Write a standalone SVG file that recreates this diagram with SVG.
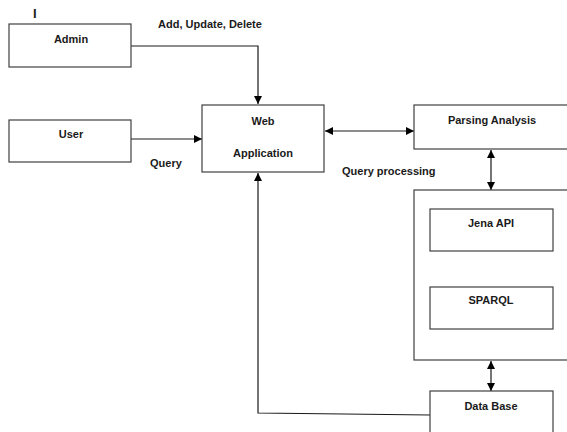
<svg xmlns="http://www.w3.org/2000/svg" width="567" height="432" viewBox="0 0 567 432">
  <style>
    .box { fill: #ffffff; stroke: #404040; stroke-width: 1.2; }
    .lbl { font-family: "Liberation Sans", Arial, sans-serif; font-size: 11px; font-weight: bold; fill: #1a1a1a; }
    .mid { text-anchor: middle; }
    .wire { fill: none; stroke: #1a1a1a; stroke-width: 1.2; }
  </style>
  <defs>
    <marker id="arrowEnd" viewBox="0 0 10 10" refX="10" refY="5" markerWidth="7" markerHeight="7" orient="auto">
      <path d="M0,0 L10,5 L0,10 z" fill="#000000"/>
    </marker>
    <marker id="arrowStart" viewBox="0 0 10 10" refX="0" refY="5" markerWidth="7" markerHeight="7" orient="auto">
      <path d="M10,0 L0,5 L10,10 z" fill="#000000"/>
    </marker>
  </defs>
  <rect width="567" height="432" fill="#ffffff"/>

  <text class="lbl" x="33" y="18" style="font-size:13px">I</text>

  <g id="connectors">
    <polyline class="wire" points="131,46 258,46 258,104" marker-end="url(#arrowEnd)"/>
    <line class="wire" x1="131" y1="139" x2="202" y2="139" marker-end="url(#arrowEnd)"/>
    <line class="wire" x1="325" y1="131" x2="414" y2="131" marker-start="url(#arrowStart)" marker-end="url(#arrowEnd)"/>
    <line class="wire" x1="491" y1="150" x2="491" y2="190" marker-start="url(#arrowStart)" marker-end="url(#arrowEnd)"/>
    <line class="wire" x1="491" y1="252" x2="491" y2="287" marker-start="url(#arrowStart)" marker-end="url(#arrowEnd)"/>
    <line class="wire" x1="491" y1="361" x2="491" y2="391" marker-start="url(#arrowStart)" marker-end="url(#arrowEnd)"/>
    <polyline class="wire" points="430,415 258,413 258,173" marker-end="url(#arrowEnd)"/>
    <text class="lbl" x="158" y="28">Add, Update, Delete</text>
    <text class="lbl" x="150" y="167">Query</text>
    <text class="lbl" x="342" y="175">Query processing</text>
  </g>

  <g id="admin">
    <rect class="box" x="9" y="24" width="122" height="43"/>
    <text class="lbl mid" x="71" y="43">Admin</text>
  </g>

  <g id="user">
    <rect class="box" x="9" y="120" width="122" height="42"/>
    <text class="lbl mid" x="71" y="138">User</text>
  </g>

  <g id="web-application">
    <rect class="box" x="202" y="105" width="122" height="67"/>
    <text class="lbl mid" x="263" y="125">Web</text>
    <text class="lbl mid" x="263" y="157">Application</text>
  </g>

  <g id="parsing-analysis">
    <rect class="box" x="414" y="105" width="160" height="44"/>
    <text class="lbl mid" x="492" y="124">Parsing Analysis</text>
  </g>

  <g id="query-engine">
    <rect class="box" x="414" y="190" width="160" height="170"/>
  </g>

  <g id="jena-api">
    <rect class="box" x="430" y="209" width="123" height="42"/>
    <text class="lbl mid" x="491" y="227">Jena API</text>
  </g>

  <g id="sparql">
    <rect class="box" x="430" y="287" width="123" height="42"/>
    <text class="lbl mid" x="491" y="304">SPARQL</text>
  </g>

  <g id="data-base">
    <rect class="box" x="430" y="391" width="123" height="50"/>
    <text class="lbl mid" x="491" y="410">Data Base</text>
  </g>
</svg>
